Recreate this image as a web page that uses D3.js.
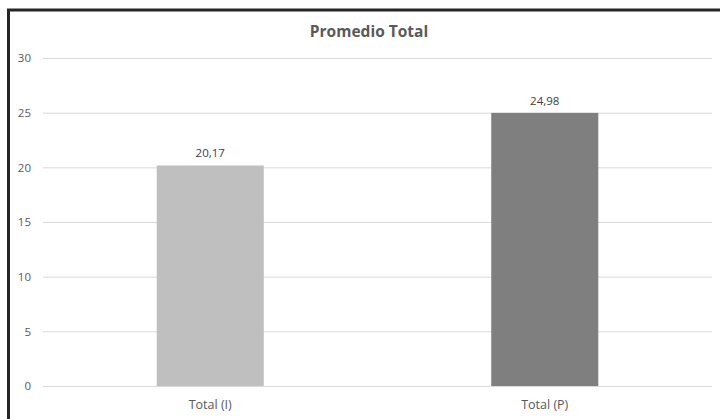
<!DOCTYPE html>
<html lang="es">
<head>
<meta charset="UTF-8">
<script src="https://d3js.org/d3.v7.min.js"></script>
<style>
  body { margin: 0; background: #fff; }
  svg { display: block; }
</style>
</head>
<body>
<svg id="chart" width="720" height="419"></svg>
<script>
const categories = ['Total (I)', 'Total (P)'];
const values = [20.17, 24.98];
const barColors = ['#bfbfbf', '#7f7f7f'];
const yTicks = [0, 5, 10, 15, 20, 25, 30];

const svg = d3.select('#chart');
const font = '"Open Sans", "DejaVu Sans", sans-serif';
const textColor = '#595959';

// frame (runs off the right / bottom edge in the reference)
svg.append('rect')
  .attr('x', 8.5).attr('y', 10)
  .attr('width', 730).attr('height', 430)
  .attr('fill', 'none')
  .attr('stroke', '#262626')
  .attr('stroke-width', 3);

const margin = { left: 43, right: 8, top: 58, bottom: 33 };
const x = d3.scaleBand().domain(categories).range([margin.left, 720 - margin.right]).paddingInner(0).paddingOuter(0);
const y = d3.scaleLinear().domain([0, 30]).range([419 - margin.bottom, margin.top]);

// title
svg.append('text')
  .attr('x', 369).attr('y', 37)
  .attr('text-anchor', 'middle')
  .attr('font-family', font)
  .attr('font-weight', 'bold')
  .attr('font-size', 15.5)
  .attr('fill', textColor)
  .text('Promedio Total');

// gridlines + y labels
const yAxis = d3.axisLeft(y).tickValues(yTicks).tickSize(-(x.range()[1] - x.range()[0])).tickPadding(12);
const gy = svg.append('g').attr('transform', `translate(${margin.left},0)`).call(yAxis);
gy.select('.domain').remove();
gy.selectAll('.tick line').attr('stroke', '#d9d9d9').attr('stroke-width', 1);
gy.selectAll('.tick text')
  .attr('font-family', font).attr('font-size', 11.5)
  .attr('fill', textColor);

// bars
const bw = x.bandwidth() * 0.32;
svg.selectAll('.bar').data(values).enter().append('rect')
  .attr('class', 'bar')
  .attr('x', (d, i) => x(categories[i]) + x.bandwidth() / 2 - bw / 2)
  .attr('y', d => y(d))
  .attr('width', bw)
  .attr('height', d => y(0) - y(d))
  .attr('fill', (d, i) => barColors[i]);

// value labels
svg.selectAll('.val').data(values).enter().append('text')
  .attr('x', (d, i) => x(categories[i]) + x.bandwidth() / 2)
  .attr('y', d => y(d) - 8)
  .attr('text-anchor', 'middle')
  .attr('font-family', font).attr('font-size', 11.5)
  .attr('fill', '#404040')
  .text(d => d.toFixed(2).replace('.', ','));

// category labels
const xAxis = d3.axisBottom(x).tickSize(0).tickPadding(14);
const gx = svg.append('g').attr('transform', `translate(0,${y(0)})`).call(xAxis);
gx.select('.domain').remove();
gx.selectAll('.tick text')
  .attr('font-family', font).attr('font-size', 12.5)
  .attr('fill', textColor);
</script>
</body>
</html>
